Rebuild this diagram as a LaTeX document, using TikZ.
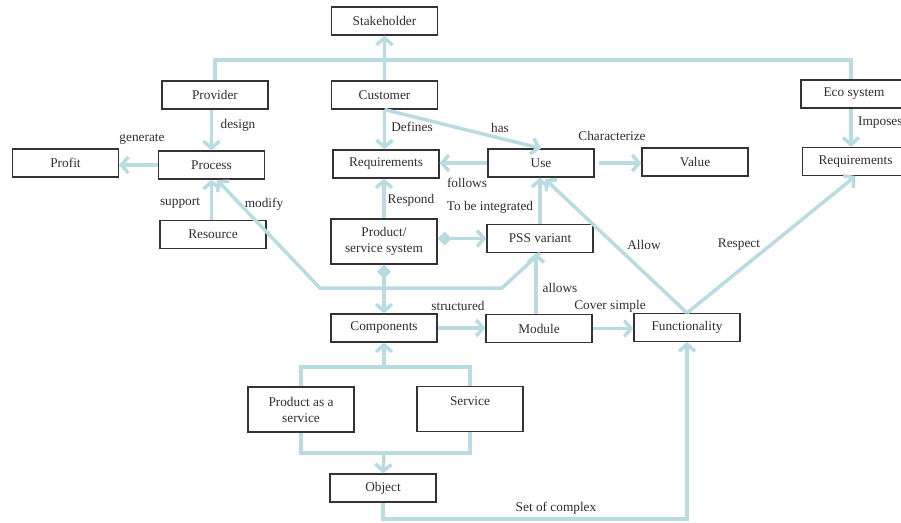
\documentclass[tikz,border=0pt]{standalone}
\usepackage{fontspec}
\setmainfont{Liberation Serif}
\usetikzlibrary{arrows.meta}
\definecolor{connc}{HTML}{B8DCE1}
\definecolor{ink}{HTML}{2E2E2E}
\begin{document}
\begin{tikzpicture}[x=1pt,y=-1pt,
  box/.style={draw=black!80,line width=1.1pt,minimum width=106pt,minimum height=28pt,inner sep=1pt,align=center,text=ink,font=\fontsize{13.3}{16}\selectfont},
  tall/.style={box,minimum height=45pt},
  lbl/.style={text=ink,font=\fontsize{13.3}{16}\selectfont,inner sep=0pt},
  link/.style={draw=connc,line width=3.5pt},
  arr/.style={link,-{Straight Barb[length=7pt,width=16pt]}},
  dia/.style={link,{Diamond[length=14pt,width=14pt]}-{Straight Barb[length=7pt,width=16pt]}}]
\useasboundingbox (0,0) rectangle (901,522);

% boxes
\node[box] (stake) at (384.5,21) {Stakeholder};
\node[box] (provider) at (215,95) {Provider};
\node[box] (customer) at (384.5,95) {Customer};
\node[box] (eco) at (854,94) {Eco system};
\node[box] (profit) at (65.5,163) {Profit};
\node[box] (process) at (211.5,165) {Process};
\node[box] (req1) at (386,164) {Requirements};
\node[box] (use) at (541,163) {Use};
\node[box] (value) at (695,162) {Value};
\node[box] (req2) at (855.5,161.5) {Requirements};
\node[box] (resource) at (213,234.5) {Resource};
\node[tall] (pss) at (384,241.5) {Product/\\service system};
\node[box] (pssvar) at (540,238.5) {PSS variant};
\node[box] (comp) at (384,328) {Components};
\node[box] (module) at (539,328.5) {Module};
\node[box] (func) at (687,327.5) {Functionality};
\node[tall] (paas) at (301,409.5) {Product as a\\service};
\node[tall] (service) at (470,409) {Service\\\phantom{x}};
\node[box] (object) at (383,488) {Object};

% helper coordinates
\coordinate (modtip) at (217,180);
\coordinate (allowtip) at (545,179);
\coordinate (bt) at (384,367);
\coordinate (bb) at (384,453);

% connectors
\draw[link] (provider.north) -- (provider.north |- 0,60) -- ([xshift=-3pt]eco.north |- 0,60) -- ([xshift=-3pt]eco.north);
\draw[arr] (customer.north) -- (stake.south);
\draw[arr] (process.north |- provider.south) -- (process.north);
\draw[arr] (process.west) -- (process.west -| profit.east);
\draw[arr] (process.south |- resource.north) -- (process.south);
\draw[arr] (pssvar.south) -- (502,288) -- (320,288) -- (modtip);
\draw[arr] (customer.south) -- (customer.south |- req1.north);
\draw[arr] (customer.south) -- (use.north);
\draw[arr] (use.west) -- (use.west -| req1.east);
\draw[arr,shorten <=4pt] (use.east) -- (use.east -| value.west);
\draw[arr] ([xshift=-3pt]eco.south) -- ([xshift=-3pt]eco.south |- req2.north);
\draw[arr] (pss.north) -- (pss.north |- req1.south);
\draw[dia] (pss.east |- pssvar.west) -- (pssvar.west);
\draw[dia] (pss.south) -- (comp.north);
\draw[arr] (pssvar.north) -- (pssvar.north |- use.south);
\draw[arr] (func.north) -- (allowtip);
\draw[arr] (func.north) -- (req2.south);
\draw[arr] (comp.east) -- (comp.east -| module.west);
\draw[arr] ([xshift=-3pt]module.north) -- ([xshift=-3pt]module.north |- pssvar.south);
\draw[arr] (module.east) -- (module.east -| func.west);
\draw[link] (paas.north) |- (bt) -| (service.north);
\draw[arr] (bt) -- (comp.south);
\draw[link] (paas.south) |- (bb) -| (service.south);
\draw[arr] (bb) -- (object.north);
\draw[arr] (object.south) -- (object.south |- 0,519) -| (func.south);

% labels
\node[lbl] (ldesign) at (238,125) {design};
\node[lbl] (lgenerate) at (142,139) {generate};
\node[lbl] (ldefines) at (412,127) {Defines};
\node[lbl] (lhas) at (500,128) {has};
\node[lbl] (lchar) at (612,136) {Characterize};
\node[lbl,anchor=west] (limposes) at (858,123) {Imposes};
\node[lbl] (lfollows) at (467,183) {follows};
\node[lbl] (lsupport) at (180,203) {support};
\node[lbl] (lmodify) at (264,204) {modify};
\node[lbl] (lrespond) at (411,200) {Respond};
\node[lbl] (lintegr) at (490,207) {To be integrated};
\node[lbl] (lallow) at (644,245) {Allow};
\node[lbl] (lrespect) at (739,245) {Respect};
\node[lbl] (lallows) at (560,288) {allows};
\node[lbl] (lstruct) at (458,306) {structured};
\node[lbl] (lcover) at (610,306) {Cover simple};
\node[lbl] (lset) at (556,508) {Set of complex};
\end{tikzpicture}
\end{document}
